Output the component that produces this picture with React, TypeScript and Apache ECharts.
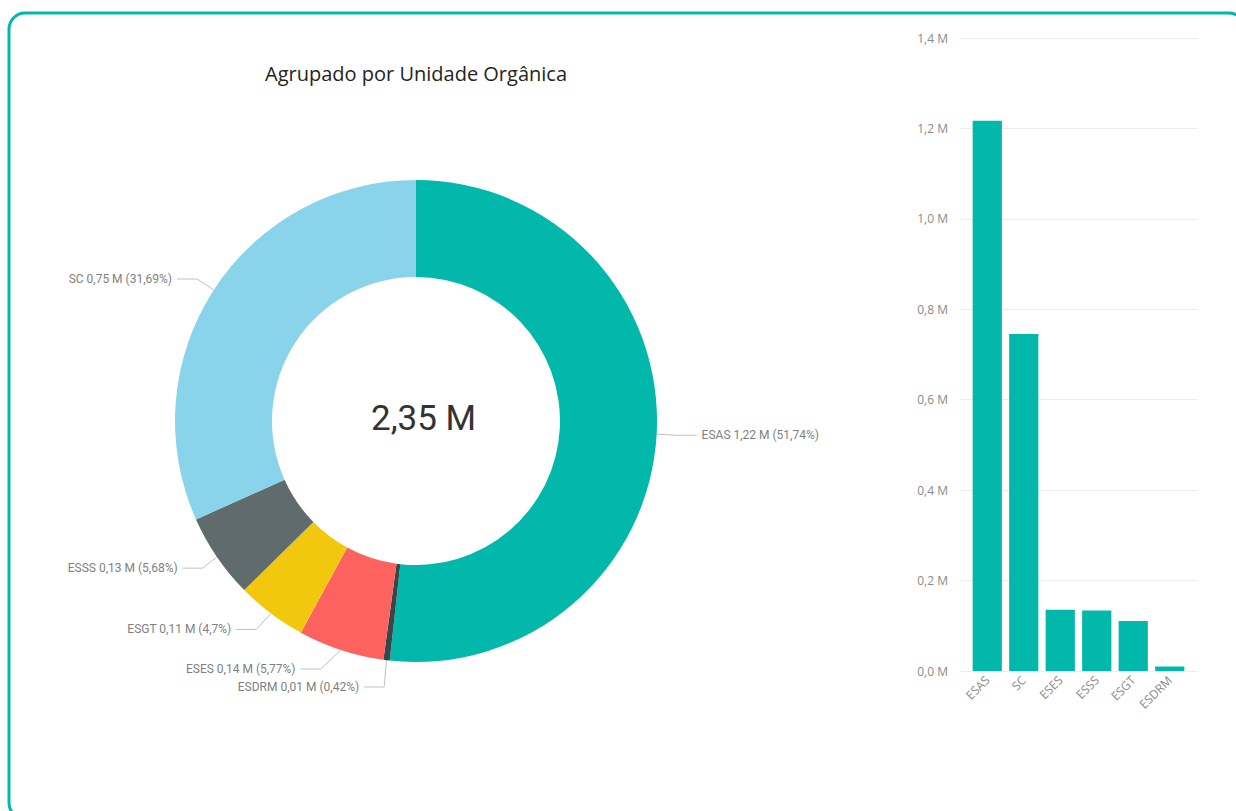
import React, { useEffect, useRef } from "react";
import * as echarts from "echarts";

// Values in millions
const categories = ["ESAS", "ESDRM", "ESES", "ESGT", "ESSS", "SC"];
const values = [1.2169, 0.0099, 0.1357, 0.1105, 0.1336, 0.7454];
const sliceColors = ["#01B8AA", "#374649", "#FD625E", "#F2C80F", "#5F6B6D", "#8AD4EB"];
const yMin = 0;
const yMax = 1.4;
const yInterval = 0.2;
const titleText = "Agrupado por Unidade Orgânica";

const fmt = (v: number, d: number) => v.toFixed(d).replace(".", ",");

export default function App() {
  const ref = useRef<HTMLDivElement>(null);
  useEffect(() => {
    if (!ref.current) return;
    const chart = echarts.init(ref.current, undefined, { renderer: "svg" });
    const total = values.reduce((a, b) => a + b, 0);
    const order = values.map((_, i) => i).sort((a, b) => values[b] - values[a]);
    const barCats = order.map((i) => categories[i]);
    const barVals = order.map((i) => values[i]);

    chart.setOption({
      animation: false,
      backgroundColor: "#ffffff",
      title: [
        {
          text: titleText,
          left: 411,
          top: 58,
          textAlign: "center",
          textStyle: { fontFamily: "Open Sans", fontSize: 20, fontWeight: "normal", color: "#252423" },
        },
      ],
      graphic: [
        {
          type: "rect",
          shape: { x: 9, y: 13, width: 1236, height: 806, r: 16 },
          style: { fill: "none", stroke: "#01B8AA", lineWidth: 3 },
          silent: true,
          z: 100,
        },
        {
          type: "text",
          left: 371,
          top: 401,
          style: {
            text: fmt(total, 2) + " M",
            font: "normal 35px Roboto",
            fill: "#333333",
          },
        },
      ],
      grid: [
        { left: 960, right: 38, top: 38, bottom: 140 },
        { left: 969, right: 48, top: 38, bottom: 140 },
      ],
      xAxis: [
        { type: "value", gridIndex: 0, show: false, min: 0, max: 1 },
        {
          type: "category",
          gridIndex: 1,
          data: barCats,
          axisLine: { show: false },
          axisTick: { show: false },
          axisLabel: {
            rotate: 45,
            interval: 0,
            margin: 7,
            color: "#8a8a8a",
            fontSize: 12,
            fontFamily: "Open Sans",
          },
        },
      ],
      yAxis: [
        {
          type: "value",
          gridIndex: 0,
          min: yMin,
          max: yMax,
          interval: yInterval,
          axisLine: { show: false },
          axisTick: { show: false },
          axisLabel: {
            margin: 12,
            color: "#8a8a8a",
            fontSize: 12,
            fontFamily: "Open Sans",
            formatter: (v: number) => fmt(v, 1) + " M",
          },
          splitLine: { lineStyle: { color: "#ececec", width: 1 } },
        },
        { type: "value", gridIndex: 1, min: yMin, max: yMax, interval: yInterval, show: false, splitLine: { show: false } },
      ],
      series: [
        {
          type: "pie",
          center: [416, 421],
          radius: [144, 241],
          startAngle: 90,
          clockwise: true,
          avoidLabelOverlap: true,
          emphasis: { disabled: true },
          data: categories.map((c, i) => ({
            name: c,
            value: values[i],
            itemStyle: { color: sliceColors[i] },
          })),
          label: {
            show: true,
            position: "outside",
            color: "#7f7f7f",
            fontSize: 12,
            fontFamily: "Roboto",
            minMargin: 6,
            formatter: (p: any) =>
              `${p.name} ${fmt(p.value, 2)} M (${String(p.percent).replace(".", ",")}%)`,
          },
          labelLine: {
            show: true,
            length: 20,
            length2: 20,
            lineStyle: { color: "#c0c0c0", width: 1 },
          },
        },
        {
          type: "bar",
          xAxisIndex: 1,
          yAxisIndex: 1,
          data: barVals,
          barCategoryGap: "20%",
          itemStyle: { color: "#01B8AA" },
          emphasis: { disabled: true },
        },
      ],
    });
    return () => chart.dispose();
  }, []);
  return (
    <div
      ref={ref}
      style={{ position: "fixed", left: 0, top: 0, width: 1236, height: 811 }}
    />
  );
}
